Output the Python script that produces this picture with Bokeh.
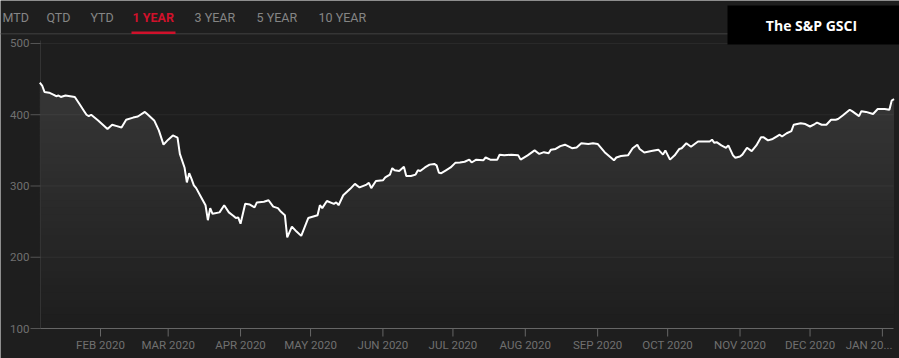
import numpy as np
import pandas as pd
from bokeh.plotting import figure
from bokeh.core.properties import value
from bokeh.models import Range1d
from bokeh.embed import file_html
from bokeh.resources import INLINE

# ---------------- data ----------------
dates = [
    "2020-01-06", "2020-01-07", "2020-01-08", "2020-01-10", "2020-01-12", "2020-01-13",
    "2020-01-14", "2020-01-15", "2020-01-17", "2020-01-21", "2020-01-23", "2020-01-25",
    "2020-01-26", "2020-01-27", "2020-01-28", "2020-01-31", "2020-02-02", "2020-02-04",
    "2020-02-06", "2020-02-08", "2020-02-10", "2020-02-12", "2020-02-15", "2020-02-17",
    "2020-02-20", "2020-02-21", "2020-02-24", "2020-02-26", "2020-02-28", "2020-03-01",
    "2020-03-03", "2020-03-05", "2020-03-06", "2020-03-08", "2020-03-09", "2020-03-10",
    "2020-03-11", "2020-03-12", "2020-03-13", "2020-03-15", "2020-03-17", "2020-03-18",
    "2020-03-19", "2020-03-20", "2020-03-23", "2020-03-25", "2020-03-27", "2020-03-29",
    "2020-03-30", "2020-03-31", "2020-04-01", "2020-04-03", "2020-04-05", "2020-04-07",
    "2020-04-08", "2020-04-11", "2020-04-13", "2020-04-15", "2020-04-17", "2020-04-18",
    "2020-04-20", "2020-04-21", "2020-04-23", "2020-04-25", "2020-04-27", "2020-04-30",
    "2020-05-04", "2020-05-05", "2020-05-06", "2020-05-08", "2020-05-11", "2020-05-12",
    "2020-05-13", "2020-05-15", "2020-05-18", "2020-05-20", "2020-05-22", "2020-05-25",
    "2020-05-26", "2020-05-27", "2020-05-29", "2020-06-01", "2020-06-02", "2020-06-04",
    "2020-06-05", "2020-06-06", "2020-06-08", "2020-06-10", "2020-06-11", "2020-06-13",
    "2020-06-15", "2020-06-16", "2020-06-17", "2020-06-19", "2020-06-21", "2020-06-23",
    "2020-06-24", "2020-06-25", "2020-06-26", "2020-06-28", "2020-06-30", "2020-07-02",
    "2020-07-04", "2020-07-06", "2020-07-08", "2020-07-09", "2020-07-11", "2020-07-14",
    "2020-07-15", "2020-07-17", "2020-07-20", "2020-07-21", "2020-07-23", "2020-07-26",
    "2020-07-29", "2020-07-30", "2020-08-02", "2020-08-05", "2020-08-07", "2020-08-09",
    "2020-08-11", "2020-08-12", "2020-08-14", "2020-08-16", "2020-08-18", "2020-08-21",
    "2020-08-23", "2020-08-25", "2020-08-28", "2020-08-30", "2020-09-01", "2020-09-04",
    "2020-09-08", "2020-09-09", "2020-09-11", "2020-09-14", "2020-09-16", "2020-09-18",
    "2020-09-19", "2020-09-21", "2020-09-24", "2020-09-27", "2020-09-29", "2020-09-30",
    "2020-10-02", "2020-10-04", "2020-10-06", "2020-10-07", "2020-10-09", "2020-10-11",
    "2020-10-14", "2020-10-17", "2020-10-19", "2020-10-20", "2020-10-21", "2020-10-22",
    "2020-10-24", "2020-10-26", "2020-10-27", "2020-10-29", "2020-10-30", "2020-11-01",
    "2020-11-02", "2020-11-04", "2020-11-06", "2020-11-08", "2020-11-10", "2020-11-11",
    "2020-11-13", "2020-11-15", "2020-11-17", "2020-11-18", "2020-11-19", "2020-11-21",
    "2020-11-23", "2020-11-24", "2020-11-27", "2020-11-29", "2020-12-01", "2020-12-03",
    "2020-12-04", "2020-12-06", "2020-12-08", "2020-12-10", "2020-12-12", "2020-12-13",
    "2020-12-15", "2020-12-18", "2020-12-19", "2020-12-22", "2020-12-23", "2020-12-25",
    "2020-12-28", "2020-12-30", "2021-01-02", "2021-01-04", "2021-01-05", "2021-01-06",
]
values = [
    445, 441, 432, 431, 428, 426,
    427, 425, 427, 425, 415, 405,
    400, 398, 400, 392, 386, 380,
    386, 384, 382, 393, 396, 397.5,
    404, 401, 392, 378, 358, 365,
    371, 368, 345, 326, 305, 318,
    310, 301, 297, 285, 273, 252,
    269, 261, 263, 273, 263, 258,
    255, 256, 247, 275, 274, 270,
    277, 278, 280, 271, 269, 265,
    259, 228, 243, 236, 230, 255,
    259, 273, 269, 279, 275, 277,
    273, 287, 296, 303, 298, 302,
    304.5, 297, 307, 308, 312, 316,
    325, 322, 321, 327, 314, 314,
    316, 322, 321, 326, 330, 331,
    329, 318.5, 318, 322, 326, 332.5,
    333, 334, 337, 333, 337, 336,
    340, 337, 337, 344, 343, 344,
    343, 337, 343, 350, 345, 347.5,
    346, 351, 352, 356, 358, 353,
    354, 360, 359, 360, 359, 347.5,
    336, 340, 342, 343, 353, 358,
    352, 347, 349, 351, 344, 350,
    337, 343, 352, 353, 360, 355,
    362.5, 362.5, 362.5, 365, 360.6, 361.5,
    357, 353.6, 357, 343, 339.6, 341.4,
    344, 353.6, 349, 357, 368.5, 368.5,
    364, 366, 370, 372, 369.5, 374,
    377, 386, 388, 387, 383.5, 387,
    389, 386, 386, 393, 393, 394,
    399, 407, 405, 398, 405, 404,
    401, 408, 408, 407, 420, 422,
]
tab_labels = ["MTD", "QTD", "YTD", "1 YEAR", "3 YEAR", "5 YEAR", "10 YEAR"]
active_tab = "1 YEAR"
title_text = "The S&P GSCI"
tick_dates = ["2020-02-01", "2020-03-01", "2020-04-01", "2020-05-01", "2020-06-01",
              "2020-07-01", "2020-08-01", "2020-09-01", "2020-10-01", "2020-11-01",
              "2020-12-01", "2021-01-01"]
tick_labels = ["FEB 2020", "MAR 2020", "APR 2020", "MAY 2020", "JUN 2020", "JUL 2020",
               "AUG 2020", "SEP 2020", "OCT 2020", "NOV 2020", "DEC 2020", "JAN 20..."]
y_ticks = [100, 200, 300, 400, 500]

# ---------------- styling / layout ----------------
BG = "#1e1e1e"
RED = "#d0112b"
W, H = 899, 358
FL, FR, FT, FB = 40, 893, 40, 328      # plot area edges on the canvas (pixels)
Y_MIN, Y_TOP = 100, 504.2              # values at the plot area's bottom / top edge
PX_PER_DAY = 2.334
ANCHOR_DAY, ANCHOR_PX = 31, 100        # 1 Feb 2020 sits at x = 100 px

epoch = pd.Timestamp("1970-01-01")
to_ms = lambda t: (t - epoch) / pd.Timedelta(milliseconds=1)
day0 = pd.Timestamp("2020-01-01")
ppu = (FB - FT) / (Y_TOP - Y_MIN)      # pixels per value unit
x_lo = to_ms(day0 + pd.Timedelta(days=ANCHOR_DAY - ANCHOR_PX / PX_PER_DAY))
x_hi = to_ms(day0 + pd.Timedelta(days=ANCHOR_DAY + (W - ANCHOR_PX) / PX_PER_DAY))
y_lo = Y_MIN - (H - FB) / ppu
y_hi = Y_TOP + FT / ppu

p = figure(width=W, height=H, output_backend="svg", toolbar_location=None,
           x_range=Range1d(x_lo, x_hi), y_range=Range1d(y_lo, y_hi),
           x_axis_location=None, y_axis_location=None,
           background_fill_color=BG, border_fill_color=BG, outline_line_color=None,
           min_border=0)
p.grid.visible = False
p.extra_x_ranges = {"px": Range1d(0, W)}
p.extra_y_ranges = {"py": Range1d(H, 0)}

x = pd.to_datetime(dates)
v = np.array(values, dtype=float)
tick_x = pd.to_datetime(tick_dates)

# vertical gradient under the line: solid bands, brighter with height
levels = np.arange(100, 470, 10)
for lo, hi in zip(levels[:-1], levels[1:]):
    mid = (lo + hi) / 2
    g = int(round(30 + max(0.0, mid - 110) / (450 - 110) * 25))
    col = "#%02x%02x%02x" % (g, g, g)
    p.varea(x=x, y1=np.minimum(v, lo), y2=np.minimum(v, hi + 1.5), fill_color=col)

# horizontal grid lines
gy = [t for t in y_ticks if t != Y_MIN]
p.segment(x0=[FL] * len(gy), x1=[FR] * len(gy), y0=gy, y1=gy, x_range_name="px",
          line_color="white", line_alpha=0.055, line_width=1)

# y axis
p.segment(x0=[FL], x1=[FL], y0=[FB], y1=[FT], x_range_name="px", y_range_name="py",
          line_color="#333333", line_width=1)
p.segment(x0=[FL - 10] * len(y_ticks), x1=[FL] * len(y_ticks), y0=y_ticks, y1=y_ticks,
          x_range_name="px", line_color="#555555", line_width=1)
p.text(x=[FL - 11] * len(y_ticks), y=y_ticks, text=[str(t) for t in y_ticks],
       x_range_name="px", text_align="right", text_baseline="middle",
       text_font=value("Roboto"), text_font_size="11.5px", text_color="#707070")

# x axis
p.segment(x0=[FL], x1=[FR], y0=[FB], y1=[FB], x_range_name="px", y_range_name="py",
          line_color="#666666", line_width=1.2)
p.segment(x0=tick_x, x1=tick_x, y0=[FB] * len(tick_x), y1=[FB + 8] * len(tick_x),
          y_range_name="py", line_color="#666666", line_width=1)
p.text(x=tick_x[:-1], y=[FB + 9.5] * (len(tick_x) - 1), text=tick_labels[:-1],
       y_range_name="py", text_align="center", text_baseline="top",
       text_font=value("Roboto"), text_font_size="11.5px", text_color="#707070")
# last label is squeezed against the right edge
p.text(x=[FR - 1], y=[FB + 9.5], text=tick_labels[-1:], x_range_name="px", y_range_name="py",
       text_align="right", text_baseline="top",
       text_font=value("Roboto"), text_font_size="11.5px", text_color="#707070")

# the series
p.line(x=x, y=v, line_color="white", line_width=2)

# tab strip
p.quad(left=[0], right=[W], top=[32.5], bottom=[34], x_range_name="px", y_range_name="py",
       fill_color="#353535", line_color=None)
tab_px = [2, 46, 90, 132, 194, 256, 318]
tab_colors = [RED if t == active_tab else "#858585" for t in tab_labels]
tab_styles = ["bold" if t == active_tab else "normal" for t in tab_labels]
p.text(x=tab_px, y=[16.5] * len(tab_labels), text=tab_labels, text_color=tab_colors,
       x_range_name="px", y_range_name="py",
       text_font=value("Roboto"), text_font_size="12.5px", text_font_style=tab_styles,
       text_baseline="middle", text_align="left")
p.quad(left=[131], right=[175], top=[31], bottom=[33.5], x_range_name="px",
       y_range_name="py", fill_color=RED, line_color=None)

# title box
p.quad(left=[727], right=[W], top=[5], bottom=[44], x_range_name="px", y_range_name="py",
       fill_color="black", line_color=None)
p.text(x=[811], y=[25], text=[title_text], text_color="white", x_range_name="px",
       y_range_name="py", text_font=value("Open Sans"), text_font_size="14px",
       text_font_style="bold", text_baseline="middle", text_align="center")

open("out.html", "w").write(file_html(p, INLINE))
